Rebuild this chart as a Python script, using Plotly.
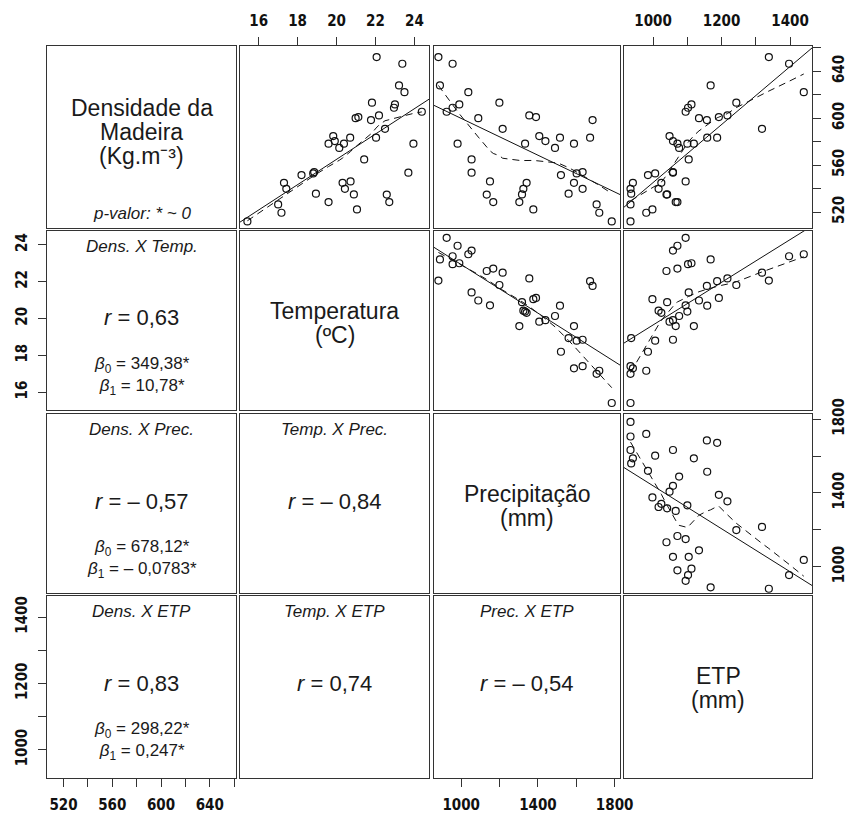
import numpy as np
import plotly.graph_objects as go

W, H = 854, 819

# Observations: wood density, temperature, precipitation, potential evapotranspiration
dens = [652.1, 646.4, 627.9, 622.2, 613.2, 611.7, 608.9, 605.5, 602.4, 601.0,
        600.0, 598.4, 591.0, 584.8, 583.4, 583.4, 580.5, 578.3, 578.3, 578.3,
        574.7, 564.9, 553.6, 554.1, 553.0, 551.6, 546.2, 545.0, 545.0, 539.9,
        539.9, 535.1, 535.0, 535.7, 528.6, 528.6, 526.6, 522.3, 519.5, 512.1]
temp = [22.06, 23.38, 23.21, 23.49, 21.82, 23.00, 22.95, 24.38, 22.18, 21.12,
        20.98, 21.77, 22.49, 19.83, 22.03, 20.70, 19.91, 19.59, 20.38, 23.95,
        20.14, 21.42, 23.69, 18.85, 18.80, 18.20, 20.72, 20.31, 17.30, 17.42,
        20.43, 20.89, 22.58, 18.94, 22.71, 19.59, 17.00, 21.05, 17.17, 15.42]
prec = [881, 955, 889, 1037, 1199, 990, 955, 924, 1355, 1390,
        1089, 1685, 1216, 1407, 1672, 1515, 1439, 1588, 1333, 981,
        1489, 1054, 1054, 1633, 1602, 1520, 1150, 1341, 1588, 1633,
        1324, 1317, 1133, 1560, 1167, 1303, 1706, 1376, 1720, 1785]
etp = [1338, 1397, 1168, 1440, 1243, 1112, 1102, 1095, 1217, 1192,
       1134, 1157, 1318, 1048, 1187, 1158, 1058, 1119, 1100, 1071,
       1076, 1104, 1058, 1058, 1006, 985, 1095, 1024, 941, 934,
       1016, 1041, 1039, 936, 1071, 1066, 934, 998, 980, 934]

variables = [dens, temp, prec, etp]

# Diagonal labels
diag_labels = [["Densidade da", "Madeira", "(Kg.m⁻³)"],
               ["Temperatura", "(ºC)"],
               ["Precipitação", "(mm)"],
               ["ETP", "(mm)"]]
abbrev = ["Dens.", "Temp.", "Prec.", "ETP"]

# Correlations (lower panels) and fitted coefficients of density models
r_text = {(1, 0): "0,63", (2, 0): "– 0,57", (3, 0): "0,83",
          (2, 1): "– 0,84", (3, 1): "0,74", (3, 2): "– 0,54"}
beta0 = [349.38, 678.12, 298.22]
beta1 = [10.78, -0.0783, 0.247]
beta0_text = ["349,38*", "678,12*", "298,22*"]
beta1_text = ["10,78*", "– 0,0783*", "0,247*"]

# Axis ticks: labelled and unlabelled (minor) positions
major_ticks = [[520, 560, 600, 640],
               [16, 18, 20, 22, 24],
               [1000, 1400, 1800],
               [1000, 1200, 1400]]
minor_ticks = [[540, 580, 620, 660],
               [],
               [1200, 1600],
               [1100, 1300]]

ranges = [[506.5, 661.5], [15.04, 24.75], [858, 1828], [915, 1464]]

# Panel pixel extents
col_px = [(47, 236), (240, 429), (434, 620), (624, 812)]
row_px = [(46, 228), (231, 410), (414, 593), (596, 778)]


def lowess(x, y, f=2 / 3, iters=3):
    x = np.asarray(x, float)
    y = np.asarray(y, float)
    o = np.argsort(x, kind="mergesort")
    x, y = x[o], y[o]
    n = len(x)
    ns = max(min(int(np.floor(f * n + 1e-7)), n), 2)
    rob = np.ones(n)
    fit = np.zeros(n)
    for it in range(iters + 1):
        for i in range(n):
            d = np.abs(x - x[i])
            h = max(np.sort(d)[ns - 1], 1e-12)
            u = np.clip(d / h, 0, 1)
            w = (1 - u ** 3) ** 3 * rob
            sw = w.sum()
            xm = (w * x).sum() / sw
            ym = (w * y).sum() / sw
            sxx = (w * (x - xm) ** 2).sum()
            if sxx > 1e-12:
                b = (w * (x - xm) * (y - ym)).sum() / sxx
                fit[i] = ym + b * (x[i] - xm)
            else:
                fit[i] = ym
        if it == iters:
            break
        res = y - fit
        s = np.median(np.abs(res))
        if s == 0:
            break
        u = np.clip(res / (6 * s), -1, 1)
        rob = (1 - u ** 2) ** 2
    return x, fit


TICK_FONT = dict(family="DejaVu Sans Condensed, Liberation Sans Narrow, Arial Narrow, sans-serif",
                 size=15, color="#111", weight="bold")
TXT = "#1a1a1a"
FONT = "Liberation Sans, Arial, Helvetica, sans-serif"

fig = go.Figure()
layout = {}
annotations = []


def fx(px):
    return px / W


def fy(py):
    return 1 - py / H


def tick_setup(i):
    return dict(ticks="outside", ticklen=8, tickwidth=1, tickcolor="#333",
                tickmode="array", tickvals=major_ticks[i],
                ticktext=[str(v) for v in major_ticks[i]],
                showticklabels=True, tickfont=TICK_FONT, ticklabelstandoff=5,
                minor=dict(tickmode="array", tickvals=minor_ticks[i], ticks="outside",
                           ticklen=8, tickwidth=1, tickcolor="#333", showgrid=False))


def add_text(x, y, text, size, italic=False):
    annotations.append(dict(x=x, y=y, xref="paper", yref="paper",
                            text=f"<i>{text}</i>" if italic else text,
                            showarrow=False, xanchor="center", yanchor="middle",
                            align="center",
                            font=dict(family=FONT, size=size, color=TXT)))


for r in range(4):
    for c in range(4):
        k = r * 4 + c + 1
        xname = "x" if k == 1 else f"x{k}"
        yname = "y" if k == 1 else f"y{k}"
        x0, x1 = col_px[c]
        y0, y1 = row_px[r]
        base = dict(showgrid=False, zeroline=False, showline=True, mirror=True,
                    linecolor="#333", linewidth=1, ticks="", showticklabels=False,
                    fixedrange=True, automargin=False)
        xa = dict(domain=[fx(x0), fx(x1)], range=ranges[c], anchor=yname, **base)
        ya = dict(domain=[fy(y1), fy(y0)], range=ranges[r], anchor=xname, **base)
        if (r == 0 and c in (1, 3)) or (r == 3 and c in (0, 2)):
            xa.update(side="top" if r == 0 else "bottom", **tick_setup(c))
        if (c == 0 and r in (1, 3)) or (c == 3 and r in (0, 2)):
            ya.update(side="left" if c == 0 else "right", tickangle=-90, **tick_setup(r))
        layout["xaxis" if k == 1 else f"xaxis{k}"] = xa
        layout["yaxis" if k == 1 else f"yaxis{k}"] = ya

        xd = variables[c]
        yd = variables[r]
        if r < c:
            # scatter, linear fit and lowess smoother
            fig.add_trace(go.Scatter(x=xd, y=yd, mode="markers", xaxis=xname, yaxis=yname,
                                     marker=dict(symbol="circle-open", size=7,
                                                 color="#111", line=dict(width=1.2)),
                                     showlegend=False, hoverinfo="skip"))
            if r == 0:
                b0, b1 = beta0[c - 1], beta1[c - 1]
            else:
                b1, b0 = np.polyfit(xd, yd, 1)
            lx = np.array(ranges[c])
            fig.add_trace(go.Scatter(x=lx, y=b0 + b1 * lx, mode="lines",
                                     xaxis=xname, yaxis=yname,
                                     line=dict(color="#111", width=1),
                                     showlegend=False, hoverinfo="skip"))
            sx, sy = lowess(xd, yd)
            fig.add_trace(go.Scatter(x=sx, y=sy, mode="lines",
                                     xaxis=xname, yaxis=yname,
                                     line=dict(color="#111", width=1, dash="7px,5px"),
                                     showlegend=False, hoverinfo="skip"))
        else:
            fig.add_trace(go.Scatter(x=[None], y=[None], mode="markers", xaxis=xname,
                                     yaxis=yname, showlegend=False, hoverinfo="skip"))

        cx = fx((x0 + x1) / 2)
        if r == c:
            lines = diag_labels[r]
            offs = [62, 86, 110] if r == 0 else [80, 104]
            for t, o in zip(lines, offs):
                add_text(cx, fy(y0 + o), t, 23)
            if r == 0:
                add_text(cx, fy(y0 + 168), "p-valor: * ~ 0", 17, italic=True)
        elif r > c:
            add_text(cx, fy(y0 + 15), f"{abbrev[c]} X {abbrev[r]}", 17, italic=True)
            add_text(cx, fy(y0 + 87), f"<i>r</i> = {r_text[(r, c)]}", 22)
            if c == 0:
                add_text(cx, fy(y0 + 145),
                         f"<i>β</i><sub>0</sub> = {beta0_text[r - 1]}<br>"
                         f"<i>β</i><sub>1</sub> = {beta1_text[r - 1]}", 17)

fig.update_layout(width=W, height=H, margin=dict(l=0, r=0, t=0, b=0, pad=0),
                  paper_bgcolor="white", plot_bgcolor="white",
                  annotations=annotations, **layout)

fig.write_html("out.html", config={"displayModeBar": False})
